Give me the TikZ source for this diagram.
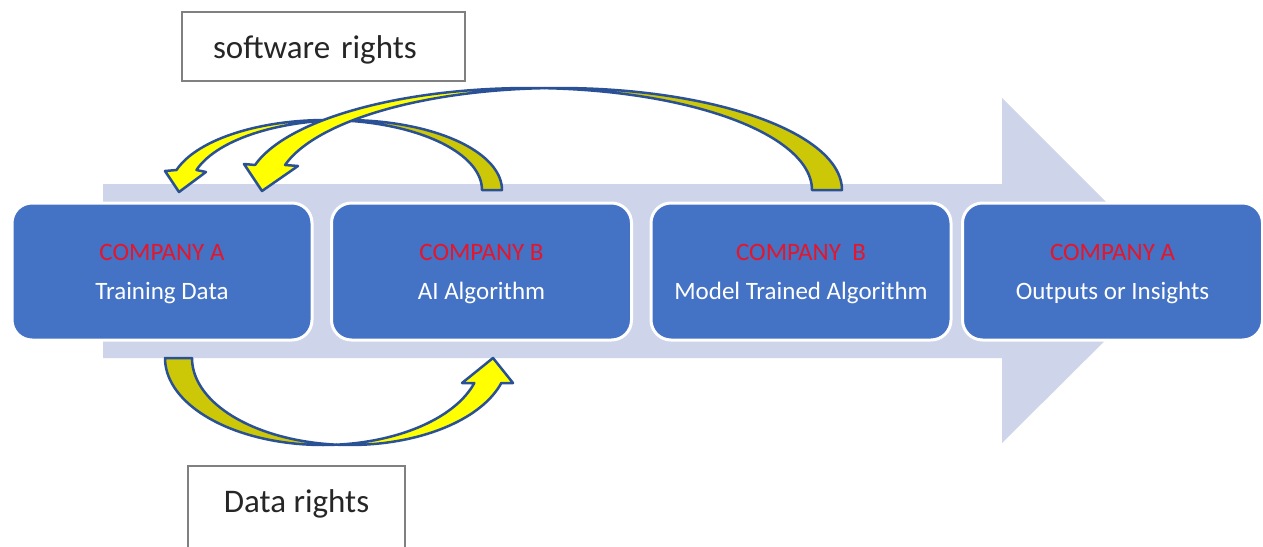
\documentclass[tikz,border=0pt]{standalone}
\usepackage{fontspec}
\setmainfont{Carlito}
\definecolor{flowback}{RGB}{206,212,233}
\definecolor{stageblue}{RGB}{68,114,196}
\definecolor{companyred}{RGB}{228,22,44}
\definecolor{ribbonline}{RGB}{42,80,150}
\definecolor{ribbonfront}{RGB}{255,255,0}
\definecolor{ribbonback}{RGB}{204,200,8}
\definecolor{labelframe}{RGB}{128,128,128}
\definecolor{labeltext}{RGB}{38,38,38}

\begin{document}
\begin{tikzpicture}[x=1pt,y=-1pt,
  stage/.style={draw=white, line width=3pt, fill=stageblue, rounded corners=20pt,
    minimum width=300pt, minimum height=137pt, inner sep=0pt, align=center,
    text=white, font=\fontsize{25}{39}\selectfont},
  rightsbox/.style={draw=labelframe, line width=2pt, fill=white, inner ysep=0pt,
    font=\fontsize{33}{40}\selectfont, text=labeltext},
  front/.style={fill=ribbonfront, draw=ribbonline, line width=2.5pt, line join=round},
  back/.style={fill=ribbonback, draw=ribbonline, line width=2.5pt, line join=round},
]
\clip (0,0) rectangle (1263,546);
\fill[white] (0,0) rectangle (1263,546);

% broad process arrow behind the stages
\fill[flowback] (103,184) -- (1002,184) -- (1002,98) -- (1175,271)
  -- (1002,443) -- (1002,358) -- (103,358) -- cycle;

% process stages
\node[stage] (s1) at (162,271.5)
  {\textcolor{companyred}{\rule{0pt}{22pt}COMPANY A}\\\rule[-6pt]{0pt}{6pt}Training Data};
\node[stage] (s2) at (481.5,271.5)
  {\textcolor{companyred}{\rule{0pt}{22pt}COMPANY B}\\\rule[-6pt]{0pt}{6pt}AI Algorithm};
\node[stage] (s3) at (801,271.5)
  {\textcolor{companyred}{\rule{0pt}{22pt}COMPANY\ \ B}\\\rule[-6pt]{0pt}{6pt}Model Trained Algorithm};
\node[stage] (s4) at (1112.5,271.5)
  {\textcolor{companyred}{\rule{0pt}{22pt}COMPANY A}\\\rule[-6pt]{0pt}{6pt}Outputs or Insights};

% labels
\node[rightsbox, minimum height=69pt, text width=221pt, inner xsep=31pt, align=left,
  text height=30pt, text depth=7pt] (sw) at (323.5,46.5) {software rights};
\node[rightsbox, minimum width=217pt, minimum height=92pt, inner xsep=0pt,
  text height=12pt, text depth=12pt] (dr) at (296.5,512) {Data rights};

% curved ribbon: AI Algorithm back to Training Data
\path[back]
  plot[variable=\t, domain=0:86.32, samples=40] ({326+156*cos(\t)}, {190-70*sin(\t)})
  -- plot[variable=\t, domain=0:93.68, samples=40] ({346+156*cos(93.68-\t)}, {190-70*sin(93.68-\t)})
  -- cycle;
\path[front]
  plot[variable=\t, domain=86.32:163.4, samples=40] ({326+156*cos(\t)}, {190-70*sin(\t)})
  -- (165,171) -- (179,192) -- (206,172)
  -- plot[variable=\t, domain=93.68:163.4, samples=40] ({346+156*cos(257.08-\t)}, {190-70*sin(257.08-\t)})
  -- cycle;

% curved ribbon: Model Trained Algorithm back to Training Data
\path[back]
  plot[variable=\t, domain=0:86.96, samples=50] ({529.2+282.8*cos(\t)}, {190-102*sin(\t)})
  -- plot[variable=\t, domain=0:93.04, samples=50] ({559.2+282.8*cos(93.04-\t)}, {190-102*sin(93.04-\t)})
  -- cycle;
\path[front]
  plot[variable=\t, domain=86.96:165.8, samples=50] ({529.2+282.8*cos(\t)}, {190-102*sin(\t)})
  -- (244,164) -- (262,191) -- (298,166)
  -- plot[variable=\t, domain=93.04:165.8, samples=50] ({559.2+282.8*cos(258.84-\t)}, {190-102*sin(258.84-\t)})
  -- cycle;

% curved ribbon below: Training Data on to AI Algorithm
\path[back]
  plot[variable=\t, domain=85.10:180, samples=40] ({323+158*cos(265.10-\t)}, {358+87*sin(265.10-\t)})
  -- plot[variable=\t, domain=94.90:180, samples=40] ({350+158*cos(\t)}, {358+87*sin(\t)})
  -- cycle;
\path[front]
  plot[variable=\t, domain=16.70:85.10, samples=40] ({323+158*cos(101.80-\t)}, {358+87*sin(101.80-\t)})
  -- (462,383) -- (493,358) -- (513,383)
  -- plot[variable=\t, domain=16.70:94.90, samples=40] ({350+158*cos(\t)}, {358+87*sin(\t)})
  -- cycle;
\end{tikzpicture}
\end{document}
